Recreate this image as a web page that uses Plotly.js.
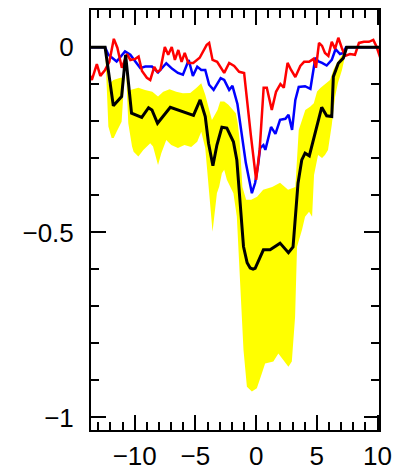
<!DOCTYPE html>
<html>
<head>
<meta charset="utf-8">
<script src="https://cdn.plot.ly/plotly-3.0.1.min.js"></script>
<style>html,body{margin:0;padding:0;background:#fff;}#chart{width:393px;height:472px;}</style>
</head>
<body>
<div id="chart"></div>
<script>
// Black mean curve
const blackX = [-14.06, -12.44, -11.76, -11.08, -10.75, -10.26, -9.42, -8.86, -8.58, -8.12, -7.07, -6.25, -5.43, -5.16, -4.61, -4.19, -3.92, -3.56, -3.23, -2.82, -2.41, -1.87, -1.59, -1.04, -0.74, -0.49, -0.25, -0.08, 0.60, 1.15, 1.97, 2.66, 3.04, 3.45, 3.76, 4.03, 4.38, 4.93, 5.40, 5.81, 6.23, 6.36, 6.77, 7.18, 7.46, 10.6];
const blackY = [0, 0, -0.158, -0.133, -0.020, -0.178, -0.189, -0.163, -0.169, -0.205, -0.162, -0.171, -0.182, -0.184, -0.142, -0.187, -0.259, -0.320, -0.264, -0.216, -0.218, -0.255, -0.304, -0.538, -0.582, -0.596, -0.599, -0.597, -0.547, -0.547, -0.529, -0.555, -0.539, -0.367, -0.304, -0.286, -0.293, -0.223, -0.162, -0.185, -0.187, -0.079, -0.043, -0.029, 0, 0];

// Blue curve
const blueX = [-14.06, -12.44, -12.17, -11.49, -10.80, -10.36, -9.95, -9.54, -9.13, -8.58, -8.08, -7.67, -7.40, -6.91, -6.44, -6.03, -5.55, -5.21, -4.85, -4.52, -4.19, -3.87, -3.50, -2.92, -2.63, -2.22, -1.95, -1.54, -1.26, -0.85, -0.35, -0.08, 0.16, 0.33, 0.60, 0.76, 1.23, 1.59, 1.97, 2.41, 2.67, 2.96, 3.23, 3.51, 4.03, 4.47, 4.88, 5.14, 5.43, 5.81, 6.23, 6.54, 6.91, 7.18, 7.40, 10.6];
const blueY = [0, 0, -0.020, -0.038, -0.011, -0.020, -0.038, -0.056, -0.052, -0.052, -0.068, -0.052, -0.043, -0.058, -0.069, -0.074, -0.034, -0.077, -0.052, -0.061, -0.061, -0.101, -0.115, -0.083, -0.088, -0.115, -0.104, -0.153, -0.218, -0.312, -0.394, -0.366, -0.318, -0.272, -0.264, -0.277, -0.215, -0.234, -0.196, -0.193, -0.182, -0.223, -0.142, -0.107, -0.105, -0.112, -0.028, -0.038, -0.042, -0.049, -0.034, -0.005, -0.018, -0.015, 0, 0];

// Red curve
const redX = [-13.82, -13.53, -13.12, -12.83, -12.44, -12.09, -11.72, -11.43, -11.06, -10.63, -10.36, -9.95, -9.68, -9.40, -9.00, -8.72, -8.39, -8.14, -7.89, -7.52, -7.24, -6.95, -6.69, -6.41, -6.14, -5.88, -5.59, -5.18, -4.65, -4.07, -3.87, -3.59, -3.21, -2.63, -2.22, -1.81, -1.40, -0.99, -0.44, 0, 0.29, 0.62, 0.88, 1.29, 1.64, 2.00, 2.28, 2.59, 2.88, 3.23, 3.64, 3.95, 4.36, 4.73, 4.93, 5.18, 5.43, 5.67, 5.95, 6.23, 6.50, 6.77, 7.05, 7.32, 7.73, 8.14, 8.47, 8.88, 9.29, 9.65, 9.93, 10.20, 10.61];
const redY = [-0.066, -0.088, -0.045, -0.077, -0.061, -0.039, 0.023, -0.001, -0.055, -0.018, -0.034, -0.031, -0.025, -0.064, -0.082, -0.088, -0.053, -0.066, -0.061, 0.001, -0.020, 0.001, -0.034, -0.007, -0.039, -0.015, -0.042, -0.042, -0.028, 0.007, 0.012, -0.034, -0.039, -0.069, -0.042, -0.050, -0.066, -0.069, -0.236, -0.358, -0.277, -0.109, -0.109, -0.169, -0.120, -0.099, -0.109, -0.042, -0.061, -0.080, -0.050, -0.039, -0.039, -0.031, -0.055, 0.012, 0.004, -0.015, -0.023, 0.015, -0.004, 0.026, -0.001, -0.023, -0.018, -0.020, 0.012, 0.015, 0.015, 0.020, 0.001, -0.026, -0.034];

// Yellow band: upper edge
const upperX = [-14.06, -12.44, -12.17, -11.76, -11.18, -10.98, -10.75, -10.53, -10.36, -9.70, -9.15, -8.55, -8.08, -7.65, -7.13, -6.58, -6.03, -5.43, -4.93, -4.52, -4.19, -3.95, -3.64, -3.18, -2.96, -2.63, -2.28, -1.67, -1.52, -1.36, -1.13, -0.82, -0.41, 0.08, 0.58, 1.32, 1.97, 2.63, 3.23, 3.51, 3.78, 4.05, 4.47, 4.75, 5.02, 5.29, 6.09, 6.36, 6.64, 6.91, 7.18, 7.48, 10.6];
const upperY = [0, 0, -0.101, -0.088, -0.082, -0.082, -0.018, -0.128, -0.115, -0.109, -0.115, -0.120, -0.133, -0.120, -0.113, -0.120, -0.124, -0.123, -0.110, -0.097, -0.128, -0.155, -0.196, -0.169, -0.146, -0.146, -0.155, -0.178, -0.204, -0.250, -0.377, -0.412, -0.412, -0.404, -0.385, -0.377, -0.366, -0.385, -0.377, -0.223, -0.196, -0.169, -0.160, -0.151, -0.119, -0.110, -0.088, -0.061, -0.043, -0.029, -0.016, 0, 0];

// Yellow band: lower edge
const lowerX = [-14.06, -12.44, -12.17, -11.90, -11.73, -11.49, -11.08, -10.94, -10.75, -10.53, -10.22, -10.09, -9.70, -9.29, -8.99, -8.72, -8.49, -8.08, -7.81, -7.40, -6.99, -6.44, -5.90, -5.35, -4.85, -4.52, -4.19, -3.92, -3.59, -3.23, -3.04, -2.82, -2.63, -2.41, -1.87, -1.59, -1.26, -1.04, -0.76, -0.35, 0.06, 0.47, 0.74, 1.42, 1.83, 2.25, 2.66, 2.94, 3.07, 3.21, 3.37, 3.78, 4.03, 4.36, 4.61, 4.77, 5.10, 5.43, 5.67, 5.92, 6.23, 6.50, 6.74, 7.07, 7.48, 10.6];
const lowerY = [0, 0, -0.214, -0.245, -0.245, -0.228, -0.201, -0.142, -0.034, -0.205, -0.268, -0.282, -0.295, -0.277, -0.268, -0.259, -0.268, -0.318, -0.286, -0.250, -0.264, -0.272, -0.264, -0.269, -0.255, -0.228, -0.272, -0.367, -0.498, -0.394, -0.376, -0.340, -0.331, -0.358, -0.394, -0.457, -0.674, -0.818, -0.917, -0.930, -0.921, -0.881, -0.854, -0.849, -0.827, -0.845, -0.863, -0.849, -0.800, -0.728, -0.539, -0.493, -0.458, -0.444, -0.458, -0.345, -0.291, -0.299, -0.291, -0.277, -0.210, -0.134, -0.096, -0.061, -0.001, 0];

const xTickVals = [-10, -5, 0, 5, 10];
const yTickVals = [-1, -0.5, 0];

const bandX = upperX.concat(lowerX.slice().reverse());
const bandY = upperY.concat(lowerY.slice().reverse());

const traces = [
  {x: bandX, y: bandY, type: 'scatter', mode: 'lines', fill: 'toself',
   fillcolor: '#FFFF00', line: {width: 0, color: '#FFFF00'}, hoverinfo: 'skip'},
  {x: blueX, y: blueY, type: 'scatter', mode: 'lines', line: {color: '#0000FF', width: 2.5}},
  {x: redX, y: redY, type: 'scatter', mode: 'lines', line: {color: '#FF0000', width: 2.5}},
  {x: blackX, y: blackY, type: 'scatter', mode: 'lines', line: {color: '#000000', width: 3}}
];

const tickFont = {family: 'Liberation Sans, Arial, sans-serif', size: 26, color: '#000'};

const layout = {
  width: 393, height: 472,
  margin: {l: 91, r: 14, t: 10, b: 42, pad: 0},
  paper_bgcolor: '#fff', plot_bgcolor: '#fff',
  showlegend: false,
  xaxis: {
    range: [-13.6, 10.12], tickmode: 'array', tickvals: xTickVals,
    ticks: 'inside', ticklen: 15, tickwidth: 2, tickcolor: '#000',
    showline: true, linewidth: 2, linecolor: '#000', mirror: 'ticks',
    showgrid: false, zeroline: false, tickfont: tickFont, ticklabelstandoff: 2,
    minor: {dtick: 1, tick0: 0, ticks: 'inside', ticklen: 8, tickwidth: 2, tickcolor: '#000', showgrid: false}
  },
  yaxis: {
    range: [-1.034, 0.101], tickmode: 'array', tickvals: yTickVals,
    ticks: 'inside', ticklen: 15, tickwidth: 2, tickcolor: '#000',
    showline: true, linewidth: 2, linecolor: '#000', mirror: 'ticks',
    showgrid: false, zeroline: false, tickfont: tickFont, ticklabelstandoff: 10,
    minor: {dtick: 0.1, tick0: 0, ticks: 'inside', ticklen: 8, tickwidth: 2, tickcolor: '#000', showgrid: false}
  }
};

Plotly.newPlot('chart', traces, layout, {staticPlot: true, displayModeBar: false});
</script>
</body>
</html>
